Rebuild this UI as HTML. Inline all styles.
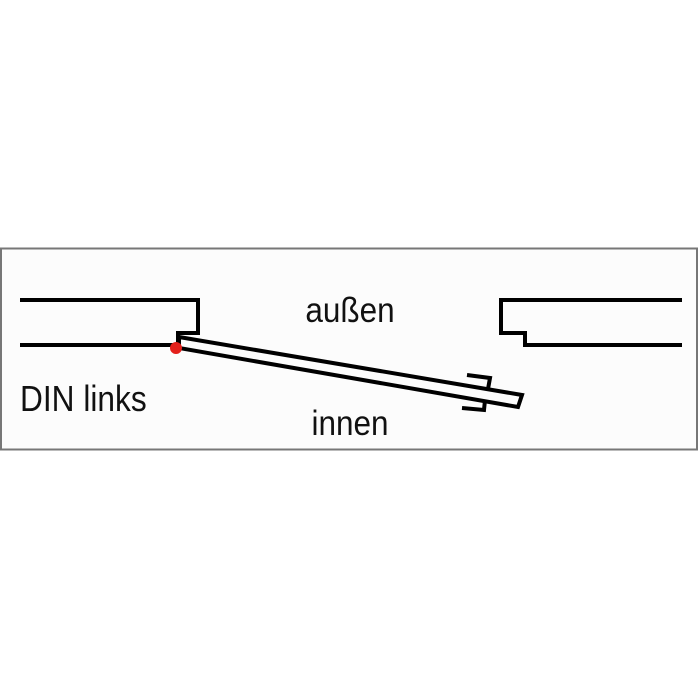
<!DOCTYPE html>
<html><head><meta charset="utf-8"><style>
html,body{margin:0;padding:0;background:#fff;}
svg{display:block;}
text{font-family:"Liberation Sans",sans-serif;fill:#111;}
</style></head><body>
<svg width="700" height="700" viewBox="0 0 700 700">
<rect x="0" y="0" width="700" height="700" fill="#fff"/>
<rect x="1" y="248.5" width="696" height="201" fill="#fcfcfc" stroke="#777" stroke-width="2"/>
<g fill="none" stroke="#000" stroke-width="4" stroke-linejoin="miter">
<polyline points="20,300 198,300 198,333 178,333 178,345 20,345"/>
<polyline points="682,300 501,300 501,333 525,333 525,345 682,345"/>
<polygon points="179,337 522,395 518,407 179,348"/>
<polyline points="467,375 490,378 488,389"/>
<polyline points="462,408 484,410 485,400"/>
</g>
<circle cx="176" cy="348" r="6" fill="#e3201b"/>
<text x="350" y="322" font-size="35" text-anchor="middle" transform="translate(350,0) scale(0.9,1) translate(-350,0)">außen</text>
<text x="350" y="435" font-size="35" text-anchor="middle" transform="translate(350,0) scale(0.9,1) translate(-350,0)">innen</text>
<text x="20" y="411" font-size="36" transform="translate(20,0) scale(0.88,1) translate(-20,0)">DIN links</text>
</svg>
</body></html>
